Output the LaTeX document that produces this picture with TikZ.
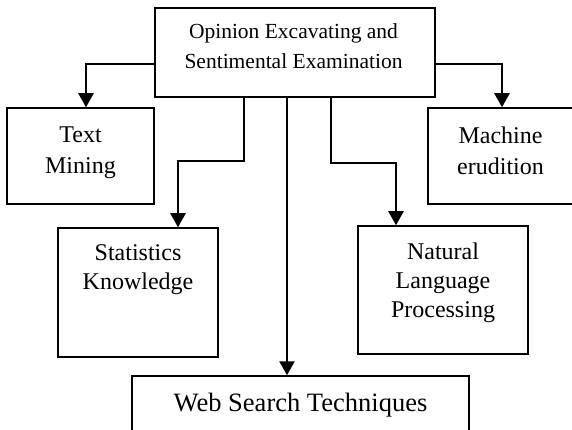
\documentclass[tikz,border=0pt]{standalone}
\usepackage{fontspec}
\setmainfont{Liberation Serif}
\usetikzlibrary{arrows.meta,positioning}

\begin{document}
\begin{tikzpicture}[
  x=1pt,y=-1pt,
  topic/.style={
    draw=black,
    line width=1.5pt,
    inner sep=0pt
  },
  caption/.style={
    align=center,
    inner sep=0pt,
    font=\fontsize{24}{29}\selectfont
  },
  link/.style={
    line width=2.4pt,
    -{Triangle[width=15pt,length=14pt]}
  }
]
\useasboundingbox (0,0) rectangle (572,430);
\fill[white] (0,0) rectangle (572,430);
\node[topic,minimum width=280pt,minimum height=89pt] (oes) at (295,52.5) {};
\node[topic,minimum width=147pt,minimum height=96pt] (tm) at (80.5,156) {};
\node[topic,minimum width=152pt,minimum height=96pt] (me) at (504,156) {};
\node[topic,minimum width=160pt,minimum height=129pt] (sk) at (138,292.5) {};
\node[topic,minimum width=170pt,minimum height=128pt] (nlp) at (443,290) {};
\node[topic,minimum width=337pt,minimum height=70pt] (ws) at (300.5,411) {};
\node[caption,font=\fontsize{21.5}{30}\selectfont,below=16pt of oes.north,xshift=-1.5pt] (oest)
  {Opinion Excavating and\\Sentimental Examination};
\node[caption,font=\fontsize{24}{31}\selectfont,below=19pt of tm.north] (tmt)
  {Text\\Mining};
\node[caption,font=\fontsize{24}{31}\selectfont,below=19pt of me.north,xshift=-3.5pt] (met)
  {Machine\\erudition};
\node[caption,below=17pt of sk.north] (skt)
  {Statistics\\Knowledge};
\node[caption,below=17pt of nlp.north] (nlpt)
  {Natural\\Language\\Processing};
\node[caption,font=\fontsize{26.5}{32}\selectfont,below=18pt of ws.north] (wst)
  {Web Search Techniques};
\coordinate (a1) at (oes.west |- 0,64);
\coordinate (a2) at (oes.east |- 0,64);
\coordinate (b1) at (244,0 |- oes.south);
\coordinate (b2) at (287,0 |- oes.south);
\coordinate (b3) at (331,0 |- oes.south);
\draw[link] (a1) -| (86,0 |- tm.north);
\draw[link] (a2) -| (502,0 |- me.north);
\draw[link] (b1) |- (178,161) -- (178,0 |- sk.north);
\draw[link] (b2) -- (287,0 |- ws.north);
\draw[link] (b3) |- (396,163) -- (396,0 |- nlp.north);
\end{tikzpicture}
\end{document}
